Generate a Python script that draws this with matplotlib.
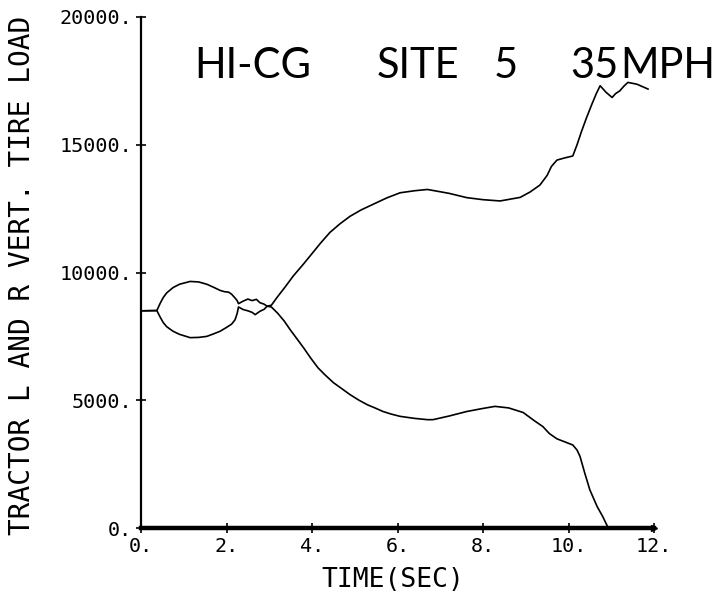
import matplotlib.pyplot as plt

# time (sec) and vertical tire loads
t_upper = [0.0, 0.37, 0.45, 0.52, 0.6, 0.75, 0.9, 1.15, 1.35, 1.54, 1.7, 1.85,
           1.95, 2.05, 2.12, 2.2, 2.25, 2.28, 2.39, 2.5, 2.6, 2.7, 2.78, 2.88,
           2.95, 3.05, 3.18, 3.37, 3.56, 3.8, 4.02, 4.2, 4.42, 4.65, 4.89,
           5.15, 5.43, 5.75, 6.06, 6.4, 6.7, 7.2, 7.62, 8.0, 8.4, 8.87, 9.1,
           9.33, 9.5, 9.6, 9.73, 9.9, 10.1, 10.2, 10.3, 10.42, 10.55, 10.65,
           10.74, 10.88, 11.02, 11.1, 11.2, 11.3, 11.39, 11.6, 11.86]
load_upper = [8500, 8510, 8800, 9020, 9200, 9410, 9540, 9650, 9630, 9540, 9420,
              9300, 9250, 9230, 9150, 9000, 8900, 8780, 8880, 8960, 8900, 8950,
              8820, 8760, 8680, 8720, 9020, 9430, 9860, 10330, 10780, 11150,
              11570, 11900, 12200, 12450, 12670, 12920, 13120, 13200, 13250,
              13100, 12930, 12850, 12800, 12940, 13150, 13420, 13800, 14150,
              14400, 14480, 14560, 15000, 15500, 16050, 16600, 17000, 17310,
              17050, 16850, 17000, 17110, 17300, 17440, 17370, 17180]

t_lower = [0.0, 0.37, 0.45, 0.52, 0.6, 0.75, 0.9, 1.15, 1.35, 1.54, 1.7, 1.85,
           2.0, 2.12, 2.2, 2.25, 2.28, 2.39, 2.5, 2.6, 2.67, 2.78, 2.88, 2.95,
           3.05, 3.2, 3.35, 3.49, 3.65, 3.8, 3.97, 4.14, 4.3, 4.5, 4.7, 4.89,
           5.1, 5.3, 5.5, 5.66, 5.85, 6.06, 6.4, 6.7, 6.83, 7.2, 7.62, 8.0,
           8.28, 8.6, 8.94, 9.2, 9.4, 9.55, 9.73, 9.9, 10.1, 10.2, 10.27,
           10.38, 10.5, 10.67, 10.8, 10.93, 11.86]
load_lower = [8500, 8510, 8250, 8040, 7880, 7700, 7580, 7450, 7460, 7500, 7600,
              7700, 7850, 7980, 8150, 8400, 8650, 8550, 8500, 8440, 8350, 8480,
              8560, 8680, 8650, 8400, 8100, 7760, 7400, 7060, 6650, 6270, 6000,
              5690, 5450, 5220, 5000, 4820, 4680, 4560, 4460, 4370, 4290, 4240,
              4240, 4380, 4560, 4680, 4760, 4700, 4520, 4200, 3970, 3700, 3490,
              3380, 3250, 3050, 2800, 2150, 1490, 840, 450, 0, 0]

x_ticks = [0, 2, 4, 6, 8, 10, 12]
y_ticks = [0, 5000, 10000, 15000, 20000]

mono = 'DejaVu Sans Mono'

fig = plt.figure(figsize=(7.22, 6.01), dpi=100)
ax = fig.add_axes([141/722, 73/601, 513/722, 511/601])

ax.plot(t_upper, load_upper, color='black', lw=1.2)
ax.plot(t_lower, load_lower, color='black', lw=1.2)

ax.set_xlim(0, 12)
ax.set_ylim(0, 20000)
ax.set_xticks(x_ticks)
ax.set_xticklabels([f"{v}." for v in x_ticks], fontfamily=mono, fontsize=14.5)
ax.set_yticks(y_ticks)
ax.set_yticklabels([f"{v}." for v in y_ticks], fontfamily=mono, fontsize=14.5)
ax.tick_params(axis='both', direction='inout', length=7, width=1.2, colors='black')
ax.tick_params(axis='x', pad=3)
ax.tick_params(axis='y', pad=3)

for side in ['top', 'right']:
    ax.spines[side].set_visible(False)
ax.spines['left'].set_linewidth(1.6)
ax.spines['bottom'].set_linewidth(3.2)
ax.plot(1, 0, '>', color='black', ms=5, transform=ax.transAxes, clip_on=False)

fig.text(22/722, 1 - 275/601, "TRACTOR L AND R VERT. TIRE LOAD", rotation=90,
         ha='center', va='center', fontfamily=mono, fontsize=20)
fig.text(393/722, 1 - 580/601, "TIME(SEC)", ha='center', va='center',
         fontfamily=mono, fontsize=19)

# handwritten title, placed word by word
hand = ['Lato', 'DejaVu Sans']
for label, xc in [("HI-CG", 253), ("SITE", 418), ("5", 506), ("35", 594), ("MPH", 668)]:
    fig.text(xc/722, 1 - 66/601, label, ha='center', va='center',
             fontfamily=hand, fontweight='normal', fontsize=30)

fig.savefig('out.png', dpi=100)
